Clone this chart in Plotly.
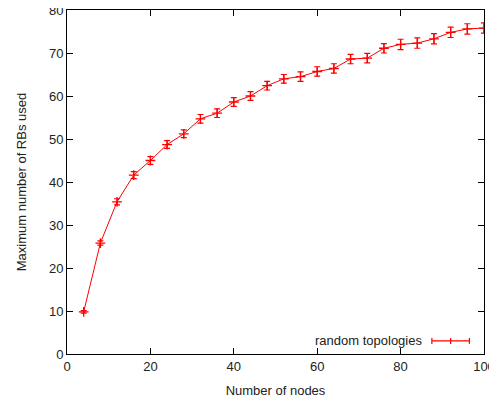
import plotly.graph_objects as go

nodes = [4, 8, 12, 16, 20, 24, 28, 32, 36, 40, 44, 48, 52, 56, 60, 64, 68, 72, 76, 80, 84, 88, 92, 96, 100]
max_rbs = [9.8, 25.8, 35.4, 41.6, 45.0, 48.7, 51.2, 54.7, 56.0, 58.6, 60.0, 62.4, 64.0, 64.5, 65.7, 66.4, 68.6, 68.8, 71.1, 72.0, 72.3, 73.3, 74.8, 75.6, 75.8]
err = [0.3, 0.5, 0.7, 0.8, 0.9, 0.9, 0.9, 1.0, 1.0, 1.0, 1.0, 1.0, 1.0, 1.1, 1.1, 1.1, 1.1, 1.1, 1.1, 1.2, 1.2, 1.2, 1.2, 1.2, 1.2]

x_ticks = [0, 20, 40, 60, 80, 100]
y_ticks = [0, 10, 20, 30, 40, 50, 60, 70, 80]
legend_label = "random topologies"

RED = "#ff0000"
FONT = dict(family="Liberation Sans, Arial, sans-serif", size=13, color="#222222")

fig = go.Figure()
fig.add_trace(go.Scatter(
    x=nodes, y=max_rbs, mode="lines+markers",
    line=dict(color=RED, width=1),
    marker=dict(symbol="cross-thin", size=7, color=RED, line=dict(color=RED, width=1.3)),
    error_y=dict(type="data", array=err, visible=True, color=RED, thickness=1.2, width=3),
    showlegend=False,
))

axis_common = dict(
    showgrid=False, zeroline=False, showline=True, mirror="allticks",
    linecolor="black", linewidth=1, ticks="inside", ticklen=6, tickcolor="black",
    tickfont=FONT, ticklabeloverflow="allow",
)
fig.update_xaxes(range=[0, 100], tickvals=x_ticks, automargin="bottom",
                 title=dict(text="Number of nodes", font=FONT, standoff=13), **axis_common)
fig.update_yaxes(range=[0, 80], tickvals=y_ticks, automargin="left",
                 title=dict(text="Maximum number of RBs used", font=FONT, standoff=19), **axis_common)

# manual gnuplot-style legend (text left of a horizontal error-bar sample)
ly = 0.038
fig.add_annotation(x=0.857, y=ly, xref="paper", yref="paper", text=legend_label,
                   showarrow=False, xanchor="right", yanchor="middle", font=FONT)
fig.add_shape(type="line", xref="paper", yref="paper", x0=0.875, x1=0.965, y0=ly, y1=ly,
              line=dict(color=RED, width=1.2))
for xc in (0.875, 0.965):
    fig.add_shape(type="line", xref="paper", yref="paper", xsizemode="pixel", ysizemode="pixel",
                  xanchor=xc, yanchor=ly, x0=0, x1=0, y0=-3, y1=3, line=dict(color=RED, width=1.2))
fig.add_shape(type="line", xref="paper", yref="paper", xsizemode="pixel", ysizemode="pixel",
              xanchor=0.92, yanchor=ly, x0=0, x1=0, y0=-3, y1=3, line=dict(color=RED, width=1.2))

# page body has an 8px default margin, so the figure is sized to fit the window
fig.update_layout(
    width=489, height=395,
    margin=dict(l=59, r=13, t=2, b=49),
    paper_bgcolor="white", plot_bgcolor="white",
    font=FONT,
)
fig.write_html("out.html")
